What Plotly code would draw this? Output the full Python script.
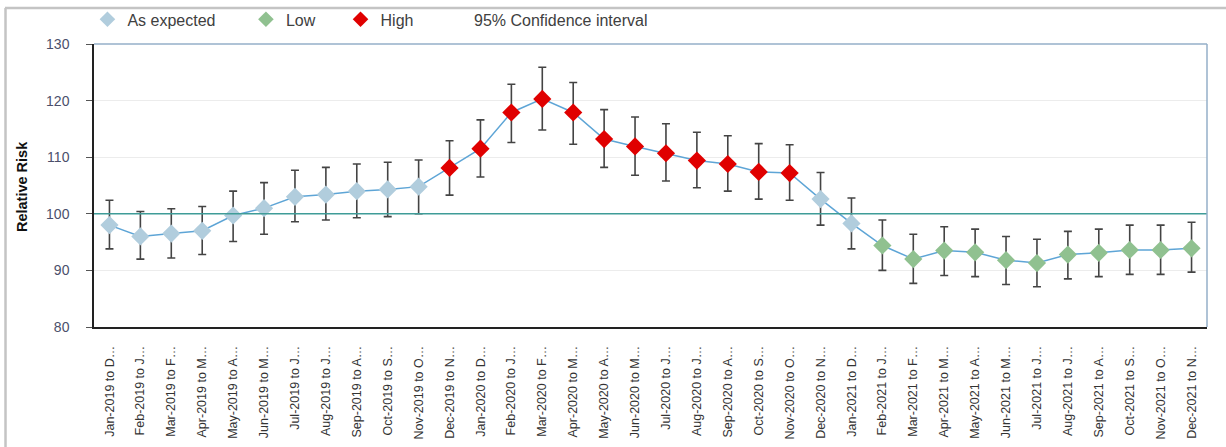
import plotly.graph_objects as go

categories = [
    "Jan-2019 to D…", "Feb-2019 to J…", "Mar-2019 to F…", "Apr-2019 to M…",
    "May-2019 to A…", "Jun-2019 to M…", "Jul-2019 to J…", "Aug-2019 to J…",
    "Sep-2019 to A…", "Oct-2019 to S…", "Nov-2019 to O…", "Dec-2019 to N…",
    "Jan-2020 to D…", "Feb-2020 to J…", "Mar-2020 to F…", "Apr-2020 to M…",
    "May-2020 to A…", "Jun-2020 to M…", "Jul-2020 to J…", "Aug-2020 to J…",
    "Sep-2020 to A…", "Oct-2020 to S…", "Nov-2020 to O…", "Dec-2020 to N…",
    "Jan-2021 to D…", "Feb-2021 to J…", "Mar-2021 to F…", "Apr-2021 to M…",
    "May-2021 to A…", "Jun-2021 to M…", "Jul-2021 to J…", "Aug-2021 to J…",
    "Sep-2021 to A…", "Oct-2021 to S…", "Nov-2021 to O…", "Dec-2021 to N…",
]

relative_risk = [
    98.0, 96.0, 96.5, 97.0, 99.7, 101.0, 103.0, 103.4, 104.0, 104.3, 104.8, 108.1,
    111.5, 117.9, 120.3, 117.9, 113.2, 111.9, 110.7, 109.4, 108.8, 107.4, 107.2, 102.6,
    98.3, 94.4, 92.0, 93.5, 93.2, 91.8, 91.3, 92.8, 93.1, 93.6, 93.6, 93.9,
]

ci_upper = [
    102.4, 100.4, 100.9, 101.3, 104.0, 105.5, 107.7, 108.2, 108.8, 109.1, 109.5, 112.9,
    116.6, 122.9, 125.9, 123.2, 118.4, 117.1, 115.9, 114.4, 113.8, 112.4, 112.2, 107.3,
    102.8, 98.9, 96.4, 97.7, 97.3, 96.0, 95.5, 96.9, 97.3, 98.0, 98.0, 98.5,
]

ci_lower = [
    93.8, 92.0, 92.2, 92.8, 95.1, 96.4, 98.6, 98.9, 99.3, 99.5, 100.0, 103.3,
    106.5, 112.6, 114.8, 112.3, 108.2, 106.8, 105.8, 104.6, 104.0, 102.6, 102.4, 98.0,
    93.8, 90.0, 87.7, 89.1, 88.9, 87.5, 87.1, 88.5, 88.9, 89.3, 89.3, 89.7,
]

status = (["As expected"] * 11 + ["High"] * 12 + ["As expected"] * 2 + ["Low"] * 11)

status_colors = {"As expected": "#b1cddd", "Low": "#90c190", "High": "#e00000"}

y_ticks = [80, 90, 100, 110, 120, 130]
reference_value = 100

FONT = "Liberation Sans, Arial, sans-serif"
LEGEND_FONT = dict(family=FONT, size=16, color="#404040")

# legend slot for each series and its horizontal position (paper units)
legend_slots = {"As expected": ("legend", -0.0059), "Low": ("legend2", 0.1365),
                "High": ("legend3", 0.2215), "95% Confidence interval": ("legend4", 0.3055)}
LEGEND_Y = 1.087

fig = go.Figure()

# connecting line
fig.add_trace(go.Scatter(
    x=categories, y=relative_risk, mode="lines",
    line=dict(color="#5ea5d6", width=1.5), showlegend=False, hoverinfo="skip",
))

# confidence interval error bars
fig.add_trace(go.Scatter(
    x=categories, y=relative_risk, mode="markers", name="95% Confidence interval",
    legend=legend_slots["95% Confidence interval"][0],
    marker=dict(size=1, color="rgba(0,0,0,0)"),
    error_y=dict(type="data", symmetric=False,
                 array=[u - v for u, v in zip(ci_upper, relative_risk)],
                 arrayminus=[v - l for l, v in zip(ci_lower, relative_risk)],
                 color="#444444", thickness=1.6, width=4),
))

# marker traces per status (on top)
for name in ["As expected", "Low", "High"]:
    xs = [c for c, s in zip(categories, status) if s == name]
    ys = [v for v, s in zip(relative_risk, status) if s == name]
    fig.add_trace(go.Scatter(
        x=xs, y=ys, mode="markers", name=name, legend=legend_slots[name][0],
        marker=dict(symbol="diamond", size=14, color=status_colors[name],
                    line=dict(width=0)),
    ))

# reference line at 100
fig.add_hline(y=reference_value, line=dict(color="#3f9c98", width=1.5))

# outer frame (top and left grey lines)
fig.add_shape(type="line", xref="paper", yref="paper", x0=-0.080, x1=1.03,
              y0=1.127, y1=1.127, line=dict(color="#c4c4c4", width=2.5))
fig.add_shape(type="line", xref="paper", yref="paper", x0=-0.0795, x1=-0.0795,
              y0=-0.45, y1=1.127, line=dict(color="#c4c4c4", width=2.5))

fig.add_annotation(
    text="<b>Relative Risk</b>", xref="paper", yref="paper", x=-0.0647, y=0.498,
    textangle=-90, showarrow=False, xanchor="center", yanchor="middle",
    font=dict(family=FONT, size=14.5, color="#111111"),
)

legend_common = dict(orientation="h", xanchor="left", yanchor="middle", y=LEGEND_Y,
                     font=LEGEND_FONT, itemsizing="constant",
                     bgcolor="rgba(0,0,0,0)", borderwidth=0)

fig.update_layout(
    width=1226, height=447,
    margin=dict(l=94, r=19, t=44, b=120, autoexpand=False),
    paper_bgcolor="white", plot_bgcolor="white",
    font=dict(family=FONT),
    legend=dict(x=legend_slots["As expected"][1], **legend_common),
    legend2=dict(x=legend_slots["Low"][1], **legend_common),
    legend3=dict(x=legend_slots["High"][1], **legend_common),
    legend4=dict(x=legend_slots["95% Confidence interval"][1], **legend_common),
    xaxis=dict(
        type="category", categoryorder="array", categoryarray=categories,
        range=[-0.5, len(categories) - 0.5],
        tickangle=-90, tickfont=dict(family=FONT, size=12.5, color="#333333"),
        showline=True, linecolor="#222222", linewidth=1.5, mirror=False,
        showgrid=False, ticks="", ticklabelstandoff=12, automargin=False,
    ),
    yaxis=dict(
        range=[80, 130], tickvals=y_ticks,
        tickfont=dict(family=FONT, size=14, color="#4b4f6b"),
        showline=True, linecolor="#222222", linewidth=1.5,
        showgrid=True, gridcolor="#ececec", gridwidth=1,
        ticks="outside", ticklen=6, tickcolor="#555555", zeroline=False,
        ticklabelstandoff=14, automargin=False,
    ),
)

# top and right plot border (blue-grey)
fig.add_shape(type="line", xref="paper", yref="paper", x0=0, x1=1, y0=1, y1=1,
              line=dict(color="#94afc8", width=1.5))
fig.add_shape(type="line", xref="paper", yref="paper", x0=1, x1=1, y0=0, y1=1,
              line=dict(color="#94afc8", width=1.5))

fig.write_html("out.html", config={"displayModeBar": False},
               post_script="document.body.style.margin='0';")
